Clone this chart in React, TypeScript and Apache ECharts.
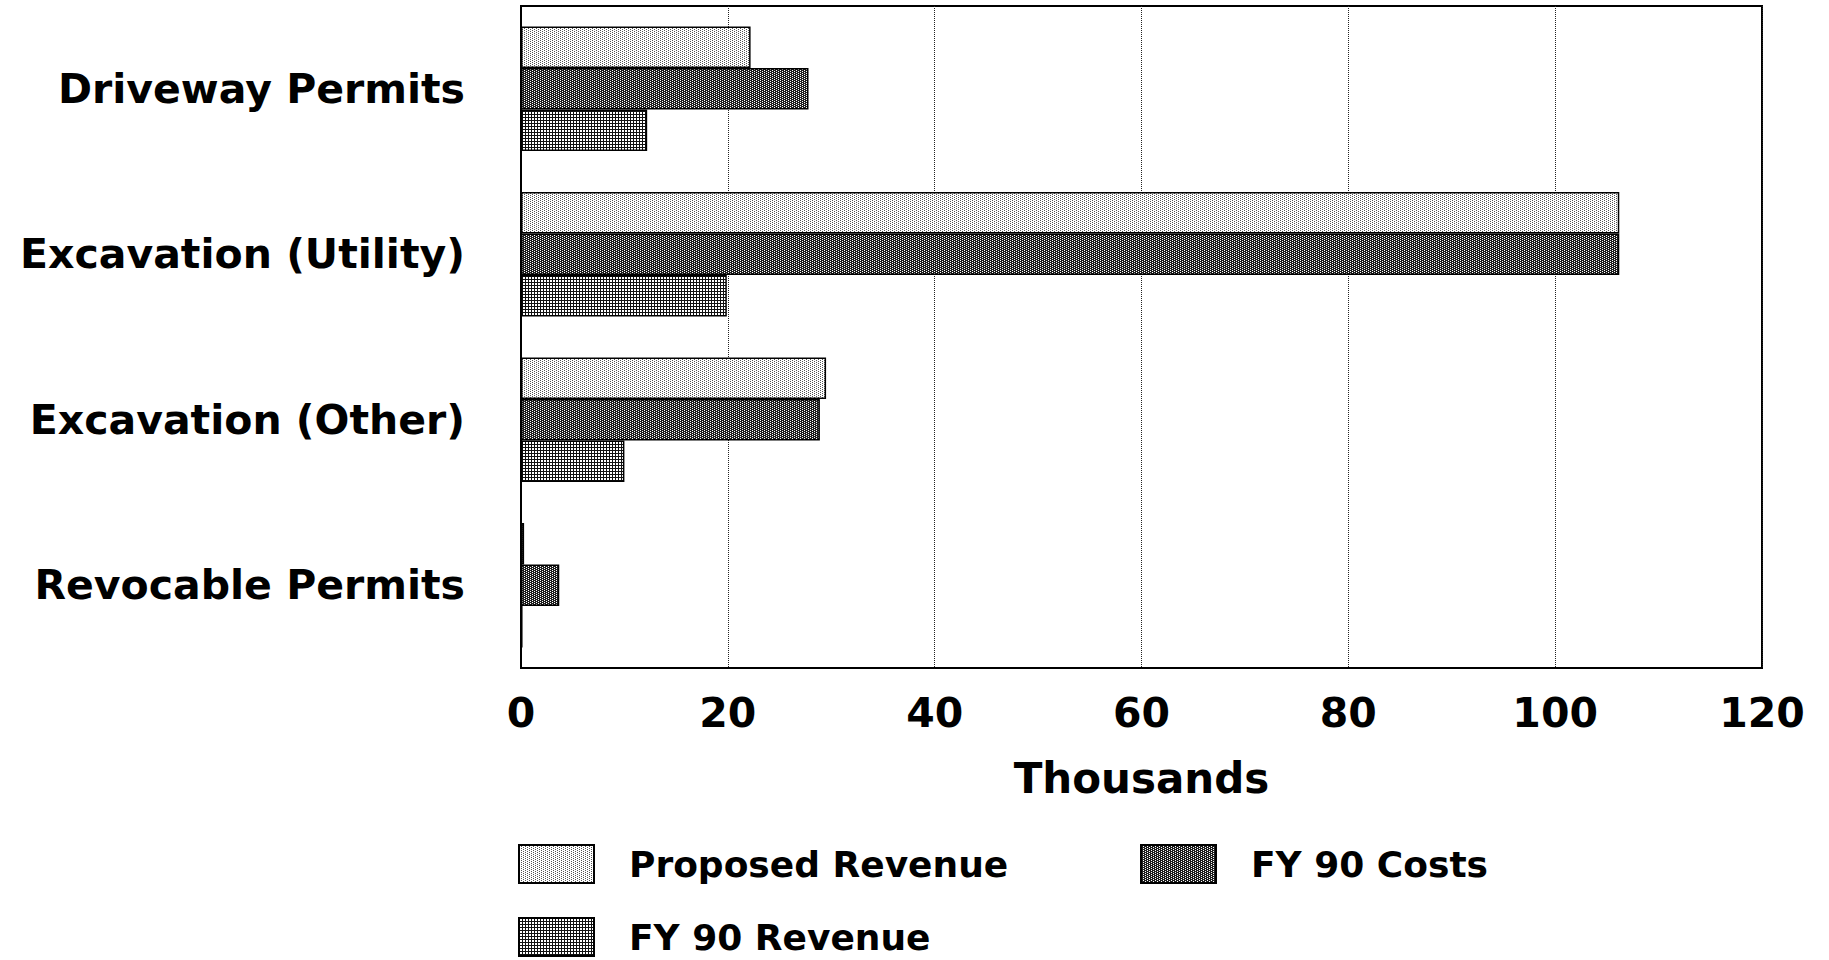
import React, { useEffect, useRef } from "react";
import * as echarts from "echarts";

const categories = [
  "Driveway Permits",
  "Excavation (Utility)",
  "Excavation (Other)",
  "Revocable Permits",
];
const seriesNames = ["Proposed Revenue", "FY 90 Costs", "FY 90 Revenue"];
const proposedRevenue = [22.2, 106.2, 29.5, 0.3];
const fy90Costs = [27.8, 106.2, 28.9, 3.7];
const fy90Revenue = [12.2, 19.9, 10.0, 0.15];
const xMin = 0;
const xMax = 120;
const xInterval = 20;
const xAxisName = "Thousands";

function makeTile(w: number, h: number, draw: (ctx: CanvasRenderingContext2D) => void) {
  const c = document.createElement("canvas");
  c.width = w;
  c.height = h;
  const ctx = c.getContext("2d")!;
  draw(ctx);
  return { image: c.toDataURL(), imageWidth: w, imageHeight: h, repeat: "repeat" as const };
}

export default function App() {
  const ref = useRef<HTMLDivElement>(null);
  useEffect(() => {
    if (!ref.current) return;
    const chart = echarts.init(ref.current, undefined, { renderer: "svg" });

    const dotted = makeTile(4, 2, (ctx) => {
      ctx.fillStyle = "#ffffff";
      ctx.fillRect(0, 0, 4, 2);
      ctx.fillStyle = "#555555";
      ctx.fillRect(0, 0, 1, 1);
      ctx.fillRect(2, 1, 1, 1);
    });
    const cross = makeTile(4, 2, (ctx) => {
      ctx.fillStyle = "#1e1e1e";
      ctx.fillRect(0, 0, 4, 2);
      ctx.fillStyle = "#ffffff";
      ctx.fillRect(0, 0, 1, 1);
      ctx.fillRect(2, 1, 1, 1);
    });
    const grid = makeTile(3, 3, (ctx) => {
      ctx.fillStyle = "#ffffff";
      ctx.fillRect(0, 0, 3, 3);
      ctx.fillStyle = "#111111";
      ctx.fillRect(0, 0, 3, 1);
      ctx.fillRect(0, 0, 1, 3);
    });

    const font = "DejaVu Sans";
    const textColor = "#000000";
    const fills = [dotted, cross, grid];
    const values = [proposedRevenue, fy90Costs, fy90Revenue];

    const legendCommon = {
      orient: "horizontal" as const,
      padding: 0,
      itemWidth: 75,
      itemHeight: 38,
      icon: "rect",
      selectedMode: false,
      textStyle: {
        fontFamily: font,
        fontWeight: "bold" as const,
        fontSize: 36,
        color: textColor,
        padding: [0, 0, 0, 30],
      },
    };

    chart.setOption({
      animation: false,
      backgroundColor: "#ffffff",
      grid: {
        left: 521,
        right: 67,
        top: 6,
        bottom: 292,
        show: true,
        borderColor: "#000000",
        borderWidth: 2,
        containLabel: false,
        outerBoundsMode: "none",
      },
      xAxis: {
        type: "value",
        min: xMin,
        max: xMax,
        interval: xInterval,
        name: xAxisName,
        nameLocation: "middle",
        nameGap: 89,
        nameTextStyle: {
          fontFamily: font,
          fontWeight: "bold",
          fontSize: 42,
          color: textColor,
        },
        axisLine: { show: true, lineStyle: { color: "#000000", width: 2 } },
        axisTick: { show: false },
        axisLabel: {
          margin: 24,
          fontFamily: font,
          fontWeight: "bold",
          fontSize: 41,
          color: textColor,
        },
        splitLine: { show: true, lineStyle: { color: "#222222", type: "dotted", width: 1 } },
      },
      yAxis: {
        type: "category",
        data: categories,
        inverse: true,
        axisLine: { show: true, lineStyle: { color: "#000000", width: 2 } },
        axisTick: { show: false },
        axisLabel: {
          margin: 56,
          fontFamily: font,
          fontWeight: "bold",
          fontSize: 41,
          color: textColor,
        },
        splitLine: { show: false },
      },
      legend: [
        { ...legendCommon, data: [seriesNames[0]], left: 518, top: 844 },
        { ...legendCommon, data: [seriesNames[1]], left: 1140, top: 844 },
        { ...legendCommon, data: [seriesNames[2]], left: 518, top: 917 },
      ],
      series: seriesNames.map((name, i) => ({
        name,
        type: "bar",
        data: values[i],
        barWidth: 41.5,
        barGap: "0%",
        itemStyle: {
          color: fills[i],
          borderColor: "#000000",
          borderWidth: 1.5,
        },
      })),
    });

    return () => chart.dispose();
  }, []);

  return (
    <div
      ref={ref}
      style={{ position: "absolute", left: 0, top: 0, width: 1829, height: 960 }}
    />
  );
}
